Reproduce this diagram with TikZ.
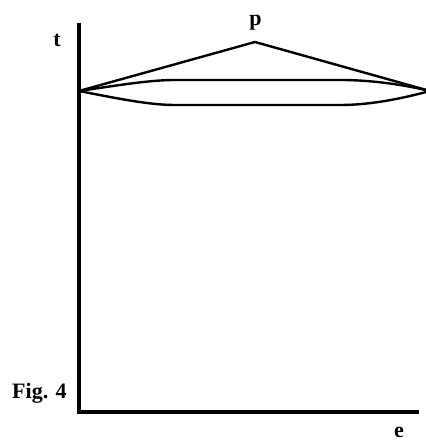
\documentclass[tikz,border=0pt]{standalone}
\usepackage{fontspec}
\setmainfont{Liberation Serif}
\begin{document}
\begin{tikzpicture}[x=1pt,y=-1pt,
  axis/.style={line width=3.2pt},
  curve/.style={line width=2.4pt, line join=round},
  lbl/.style={font=\fontsize{22}{24}\selectfont\bfseries, inner sep=0pt, anchor=base}]
\useasboundingbox (0,0) rectangle (425,443);
\coordinate (O) at (79,412);
\coordinate (T) at (79,23);
\coordinate (E) at (419,412);
\coordinate (L) at (79,91);
\coordinate (P) at (255,42);
\coordinate (R) at (430,91);
\draw[axis] (T) -- (O) -- (E);
\draw[curve] (L) -- (P) -- (R);
\draw[curve] (L) .. controls (120,85) and (150,80) .. (175,80) -- (340,80)
  .. controls (370,80) and (400,84) .. (R);
\draw[curve] (L) .. controls (120,99) and (150,105) .. (175,105) -- (340,105)
  .. controls (370,105) and (400,99) .. (R);
\node[lbl] (t) at (57,47) {t};
\node[lbl] (p) at (255.5,25.5) {p};
\node[lbl] (e) at (399,437) {e};
\node[lbl, anchor=base west] (fig) at (12,398) {Fig. 4};
\end{tikzpicture}
\end{document}
